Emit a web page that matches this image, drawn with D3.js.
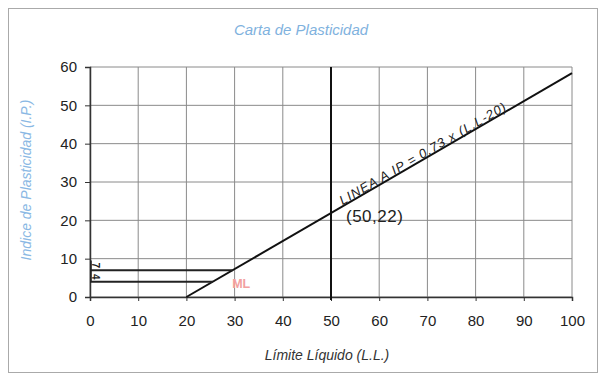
<!DOCTYPE html>
<html><head><meta charset="utf-8">
<script src="https://cdn.jsdelivr.net/npm/d3@7"></script>
<style>
html,body{margin:0;padding:0;background:#fff;}
svg{display:block;font-family:"Liberation Sans",Arial,sans-serif;}
</style></head>
<body><svg id="c" width="603" height="380"></svg>
<script>
const chartTitle = "Carta de Plasticidad";
const xTitle = "Límite Líquido (L.L.)";
const yTitle = "Indice de Plasticidad (I.P.)";
const xTicks = [0,10,20,30,40,50,60,70,80,90,100];
const yTicks = [0,10,20,30,40,50,60];
const aLineLL = [20, 100];
const aLineIP = [0, 58.4];
const aLineLabel = "LINEA A  IP = 0,73 x (L.L-20)";
const markLL = [50];
const pointLabel = "(50,22)";
const pointLL = [50];
const pointIP = [22];
const hLineIP = [7, 4];
const hLineEndLL = [29.6, 25.5];
const hLineLabels = ["7", "4"];
const zoneLabel = "ML";
const zoneLL = [29.5];
const zoneIP = [2.3];

const svg = d3.select("#c");
svg.append("rect").attr("x",8.5).attr("y",8.5).attr("width",589).attr("height",364)
  .attr("fill","#fff").attr("stroke","#aaa").attr("stroke-width",1);

const x = d3.scaleLinear().domain([0,100]).range([90,572]);
const y = d3.scaleLinear().domain([0,60]).range([297,67]);

// grid
svg.append("g").selectAll("line").data(xTicks).join("line")
  .attr("x1",d=>x(d)).attr("x2",d=>x(d)).attr("y1",y(0)).attr("y2",y(60))
  .attr("stroke","#8a8a8a").attr("stroke-width",1);
svg.append("g").selectAll("line").data(yTicks).join("line")
  .attr("x1",x(0)).attr("x2",x(100)).attr("y1",d=>y(d)).attr("y2",d=>y(d))
  .attr("stroke","#8a8a8a").attr("stroke-width",1);

// axes
const xa = svg.append("g").attr("transform",`translate(0,${y(0)})`)
  .call(d3.axisBottom(x).tickValues(xTicks).tickSize(4).tickPadding(14));
const ya = svg.append("g").attr("transform",`translate(${x(0)},0)`)
  .call(d3.axisLeft(y).tickValues(yTicks).tickSize(5).tickPadding(8));
[xa,ya].forEach(a=>{
  a.select(".domain").attr("stroke","#333").attr("stroke-width",1.5);
  a.selectAll(".tick line").attr("stroke","#333");
  a.selectAll("text").attr("font-size",15).attr("fill","#222")
   .attr("font-family","Liberation Sans, Arial, sans-serif");
});

// vertical LL=50
svg.append("g").selectAll("line").data(markLL).join("line")
  .attr("x1",d=>x(d)).attr("x2",d=>x(d)).attr("y1",y(0)+3).attr("y2",y(60))
  .attr("stroke","#111").attr("stroke-width",2);

// A line
const line = d3.line().x(d=>x(d[0])).y(d=>y(d[1]));
svg.append("path").datum(aLineLL.map((v,i)=>[v,aLineIP[i]]))
  .attr("d",line).attr("fill","none").attr("stroke","#111").attr("stroke-width",2);

// horizontal lines
svg.append("g").selectAll("line").data(hLineIP).join("line")
  .attr("x1",x(0)).attr("x2",(d,i)=>x(hLineEndLL[i])).attr("y1",d=>y(d)).attr("y2",d=>y(d))
  .attr("stroke","#222").attr("stroke-width",2);
svg.append("line").attr("x1",x(0)+1).attr("x2",x(0)+1).attr("y1",y(9.5)).attr("y2",y(hLineIP[1]))
  .attr("stroke","#222").attr("stroke-width",1.5);
svg.append("g").selectAll("text").data(hLineIP).join("text")
  .attr("transform",(d,i)=>`translate(${x(0)+2},${y(d)-2}) rotate(90)`)
  .attr("font-size",10).attr("font-weight","bold").attr("fill","#222")
  .attr("text-anchor","end")
  .text((d,i)=>hLineLabels[i]);

// A line label
const slope = (y(aLineIP[1])-y(aLineIP[0]))/(x(aLineLL[1])-x(aLineLL[0]));
const ang = Math.atan(slope)*180/Math.PI;
const lx = 52.5, ly = 0.73*(lx-20);
svg.append("text")
  .attr("transform",`translate(${x(lx)},${y(ly)}) rotate(${ang})`)
  .attr("dy",-1)
  .attr("font-size",13).attr("letter-spacing",1).attr("font-style","italic").attr("fill","#222")
  .text(aLineLabel);

// point label
svg.append("text").data(pointLL).attr("x",d=>x(d)+15).attr("y",(d,i)=>y(pointIP[i])+9)
  .attr("font-size",17).attr("letter-spacing",0.5).attr("fill","#222").text(pointLabel);

// ML
svg.append("text").attr("x",x(zoneLL[0])).attr("y",y(zoneIP[0]))
  .attr("font-size",12.5).attr("font-weight","bold").attr("fill","#f2a0a0").text(zoneLabel);

// titles
svg.append("text").attr("x",301).attr("y",35).attr("text-anchor","middle")
  .attr("font-size",15).attr("font-style","italic").attr("fill","#7fb2de").text(chartTitle);
svg.append("text").attr("transform",`translate(31,180) rotate(-90)`).attr("text-anchor","middle")
  .attr("font-size",14).attr("font-style","italic").attr("fill","#8ab8e4").text(yTitle);
svg.append("text").attr("x",327).attr("y",360).attr("text-anchor","middle")
  .attr("font-size",14).attr("font-style","italic").attr("fill","#333").text(xTitle);
</script></body></html>
